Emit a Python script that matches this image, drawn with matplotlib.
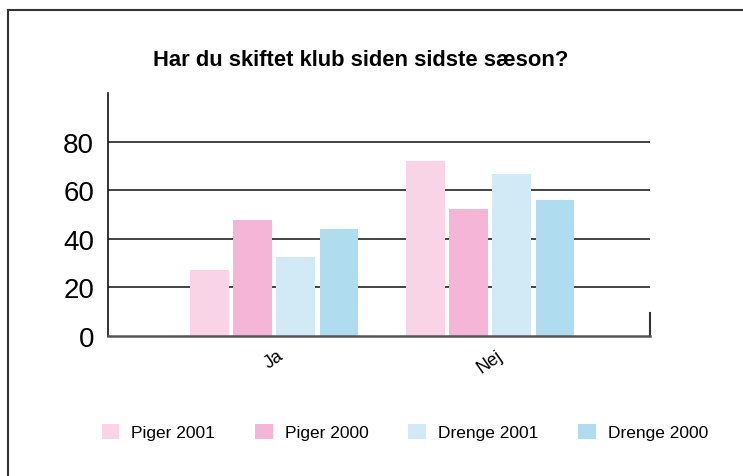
import numpy as np
import matplotlib
matplotlib.use('Agg')
from matplotlib import pyplot as plt
from matplotlib.patches import Patch
from matplotlib.lines import Line2D

plt.rcParams['font.family'] = ['Liberation Sans Narrow', 'Liberation Sans', 'DejaVu Sans']

# Data
categories = ['Ja', 'Nej']
series = ['Piger 2001', 'Piger 2000', 'Drenge 2001', 'Drenge 2000']
values = {
    'Piger 2001': [27, 72],
    'Piger 2000': [47.5, 52],
    'Drenge 2001': [32.5, 66.5],
    'Drenge 2000': [44, 56],
}
colors = ['#F9D3E6', '#F4B5D6', '#D2E9F6', '#B0DCF0']
yticks = [0, 20, 40, 60, 80]

fig = plt.figure(figsize=(7.43, 4.77), dpi=100)

# outer frame (top and left edges only)
fig.add_artist(Line2D([8 / 743, 8 / 743], [0, 1 - 11 / 477], color='#333333', lw=1.5))
fig.add_artist(Line2D([8 / 743, 1], [1 - 11 / 477, 1 - 11 / 477], color='#333333', lw=1.5))

ax = fig.add_axes([108 / 743, 140.3 / 477, 542 / 743, 242.7 / 477])

x = np.arange(len(categories))
width = 0.18
step = 0.2
for i, (name, col) in enumerate(zip(series, colors)):
    ax.bar(x + (i - 1.5) * step, values[name], width, color=col, label=name, zorder=3)

for y in yticks[1:]:
    ax.axhline(y, color='#111111', lw=1.1, zorder=1)

ax.set_xlim(-0.77, 1.74)
ax.set_ylim(0, 100)
ax.set_yticks(yticks)
ax.set_xticks(x)
ax.set_xticklabels(categories, rotation=35, fontsize=13, ha='center')
ax.tick_params(axis='y', length=0, pad=10, labelsize=20)
ax.tick_params(axis='x', length=0, pad=8)

for s in ['top', 'right']:
    ax.spines[s].set_visible(False)
ax.spines['left'].set_color('#111111')
ax.spines['left'].set_linewidth(1.2)
ax.spines['bottom'].set_color('#555555')
ax.spines['bottom'].set_linewidth(1.8)
ax.spines['bottom'].set_zorder(4)
# short right tick at the end of the axis
ax.axvline(ax.get_xlim()[1], ymin=0, ymax=0.095, color='#333333', lw=1.5, clip_on=False)

fig.text(361 / 743, 1 - 60 / 477, 'Har du skiftet klub siden sidste sæson?',
         ha='center', va='center', fontsize=15.8, fontweight='bold')

handles = [Patch(facecolor=c, edgecolor='none') for c in colors]
fig.legend(handles, series, loc='center', bbox_to_anchor=(405 / 743, 1 - 433 / 477),
           ncol=4, frameon=False, fontsize=12.5, handlelength=1.0, handleheight=1.0,
           handletextpad=0.7, columnspacing=2.3)

fig.savefig('out.png', dpi=100)
plt.close()
